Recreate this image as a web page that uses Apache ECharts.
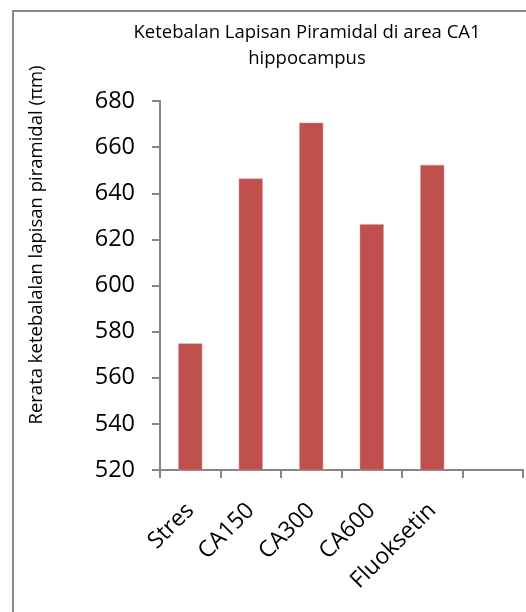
<!DOCTYPE html>
<html>
<head>
<meta charset="utf-8">
<script src="https://cdn.jsdelivr.net/npm/echarts@6/dist/echarts.min.js"></script>
<style>
  html, body { margin: 0; padding: 0; background: #fff; }
  #chart { width: 526px; height: 612px; }
</style>
</head>
<body>
<div id="chart"></div>
<script>
// data
const categories = ['Stres', 'CA150', 'CA300', 'CA600', 'Fluoksetin', '']
const thickness = [574.9, 646.4, 670.6, 626.6, 652.3, null]
const titleLines = ['Ketebalan Lapisan Piramidal di area CA1', 'hippocampus']
const yTitle = 'Rerata ketebalalan lapisan piramidal (\u03c0m)'

const font = '"Open Sans", "Noto Sans", sans-serif'
const axisGrey = '#868686'

const chart = echarts.init(document.getElementById('chart'))
chart.setOption({
  animation: false,
  title: {
    text: titleLines.join('\n'),
    left: 302, top: 15, textAlign: 'center',
    textStyle: { fontFamily: font, fontSize: 18.5, fontWeight: 'normal', color: '#000', lineHeight: 26 }
  },
  grid: { left: 160, right: 3, top: 101, bottom: 142 },
  xAxis: {
    type: 'category',
    data: categories,
    axisLine: { lineStyle: { color: axisGrey, width: 2 } },
    axisTick: { show: true, length: 8, lineStyle: { color: axisGrey, width: 2 } },
    axisLabel: { rotate: 45, margin: 37, fontFamily: font, fontSize: 23, color: '#000', interval: 0 }
  },
  yAxis: {
    type: 'value', min: 520, max: 680, interval: 20,
    splitLine: { show: false },
    axisLine: { show: true, lineStyle: { color: axisGrey, width: 2 } },
    axisTick: { show: true, length: 8, lineStyle: { color: axisGrey, width: 2 } },
    axisLabel: { margin: 25, fontFamily: font, fontSize: 23.5, color: '#000' }
  },
  series: [{
    type: 'bar',
    data: thickness,
    barWidth: 24,
    itemStyle: { color: '#C0504D', borderColor: '#D99694', borderWidth: 0.5 }
  }],
  graphic: [
    {
      type: 'rect', silent: true,
      shape: { x: 13, y: 11, width: 600, height: 700 },
      style: { fill: 'none', stroke: '#8a8a8a', lineWidth: 2 }
    },
    {
      type: 'text', x: 37, y: 245, rotation: Math.PI / 2,
      style: {
        text: yTitle, fontFamily: font, fontSize: 18.5, fill: '#000',
        textAlign: 'center', textVerticalAlign: 'middle'
      }
    }
  ]
})
</script>
</body>
</html>
